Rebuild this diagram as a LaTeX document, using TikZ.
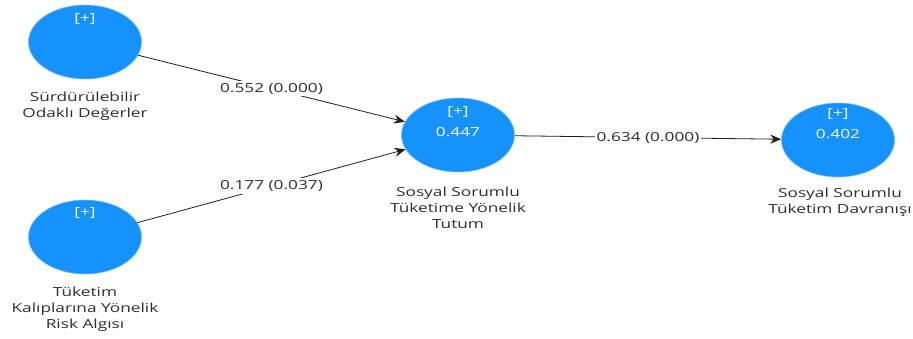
\documentclass[tikz,border=0pt]{standalone}
\usepackage{fontspec}
\setmainfont{Open Sans}
\newfontfamily\widefont[FakeStretch=1.38]{Open Sans}
\usetikzlibrary{shapes.geometric,arrows.meta}
\definecolor{lvblue}{RGB}{22,146,252}
\definecolor{lvtext}{RGB}{45,45,50}
\definecolor{lvline}{RGB}{30,30,30}
\tikzset{
  lv/.style={ellipse,fill=lvblue,draw=lvblue!60!white,line width=0.6pt,minimum width=113pt,minimum height=74pt,inner sep=0pt},
  intext/.style={text=white,font=\widefont\fontsize{12.5}{14}\selectfont,inner sep=0pt},
  lvlabel/.style={text=lvtext,align=center,font=\widefont\fontsize{12.5}{16}\selectfont,inner sep=0pt},
  path/.style={draw=lvline,line width=0.8pt,-{Stealth[length=11pt,width=9pt]}},
  coef/.style={fill=white,text=lvtext,font=\widefont\fontsize{12.5}{14}\selectfont,inner sep=2pt}
}
\begin{document}
\begin{tikzpicture}[x=1pt,y=-1pt]
\useasboundingbox (0,0) rectangle (913,338);
\node[lv] (s1) at (85,42) {};
\node[lv] (s2) at (85,237) {};
\node[lv] (t) at (458,135) {};
\node[lv] (b) at (838,140) {};
\node[intext] (s1p) at (85,19) {[+]};
\node[intext] (s2p) at (85,213) {[+]};
\node[intext] (tp) at (458,112) {[+]};
\node[intext] (tr) at (458,132) {0.447};
\node[intext] (bp) at (838,114) {[+]};
\node[intext] (br) at (838,134) {0.402};
\node[lvlabel] (s1l) at (85,106.5) {Sürdürülebilir\\Odaklı Değerler};
\node[lvlabel] (s2l) at (85,309) {Tüketim\\Kalıplarına Yönelik\\Risk Algısı};
\node[lvlabel] (tl) at (458,208) {Sosyal Sorumlu\\Tüketime Yönelik\\Tutum};
\node[lvlabel] (bl) at (840,202.5) {Sosyal Sorumlu\\Tüketim Davranışı};
\draw[path] (s1) -- node[coef] (c1) {0.552 (0.000)} (t);
\draw[path] (s2) -- node[coef] (c2) {0.177 (0.037)} (t);
\draw[path] (t) -- node[coef] (c3) {0.634 (0.000)} (b);
\end{tikzpicture}
\end{document}
